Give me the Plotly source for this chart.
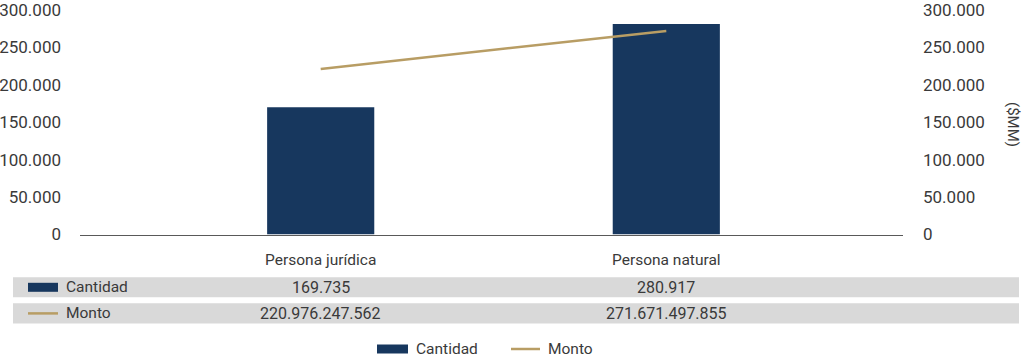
import plotly.graph_objects as go

# ---- data ----
categories = ["Persona jurídica", "Persona natural"]
cantidad = [169735, 280917]
monto = [220976247562, 271671497855]          # pesos
monto_mm = [v / 1e6 for v in monto]           # $MM for right axis
series_names = ["Cantidad", "Monto"]
tick_vals = [0, 50000, 100000, 150000, 200000, 250000, 300000]
tick_text = ["0", "50.000", "100.000", "150.000", "200.000", "250.000", "300.000"]

# ---- style ----
W, H = 1024, 361
NAVY = "#17375E"
GOLD = "#B89D64"
GRAY = "#D9D9D9"
TXT = "#3a3a3a"
FONT = "Roboto"

def fmt(n):
    return f"{n:,}".replace(",", ".")

def px(x):
    return x / W

def py(y):
    return 1 - y / H

fig = go.Figure()
fig.add_trace(go.Bar(x=categories, y=cantidad, name=series_names[0],
                     marker=dict(color=NAVY, line=dict(width=0)), width=0.31,
                     showlegend=False, yaxis="y"))
fig.add_trace(go.Scatter(x=categories, y=monto_mm, name=series_names[1], mode="lines",
                         line=dict(color=GOLD, width=2.5), showlegend=False, yaxis="y2"))

x_left, x_right = 80, 903
y_zero, y_top = 234.5, 9.7
c0, c1 = 320.7, 666.3
unit = c1 - c0
xr = [(x_left - c0) / unit, (x_right - c0) / unit]

fig.update_layout(
    width=W, height=H,
    margin=dict(l=0, r=0, t=0, b=0, autoexpand=False),
    paper_bgcolor="white", plot_bgcolor="white",
    font=dict(family=FONT, color=TXT, size=16),
    xaxis=dict(domain=[px(x_left), px(x_right)], type="category", range=xr,
               showline=True, linecolor="#595959", linewidth=1, automargin=False,
               showgrid=False, ticks="", tickfont=dict(size=15.5, color=TXT),
               ticklabelstandoff=11, fixedrange=True, ticklabeloverflow="allow"),
    yaxis=dict(domain=[py(y_zero), py(y_top)], range=[0, 300000], automargin=False,
               tickvals=tick_vals, ticktext=tick_text, showgrid=False,
               zeroline=False, showline=False, ticks="", ticklabeloverflow="allow",
               tickfont=dict(size=17, color=TXT), ticklabelstandoff=18),
    yaxis2=dict(domain=[py(y_zero), py(y_top)], range=[0, 300000], overlaying="y",
                side="right", anchor="x", tickvals=tick_vals, ticktext=tick_text,
                showgrid=False, zeroline=False, showline=False, ticks="", automargin=False,
                ticklabeloverflow="allow",
                tickfont=dict(size=17, color=TXT), ticklabelstandoff=19),
    showlegend=False,
)

shapes = []
annotations = []

def note(x, y, text, size, xanchor="center", angle=0):
    annotations.append(dict(x=px(x), y=py(y), xref="paper", yref="paper",
                            text=text, showarrow=False, xanchor=xanchor,
                            yanchor="middle", textangle=angle,
                            font=dict(size=size, color=TXT)))

# right axis title
note(1013, 124, "($MM)", 15, angle=90)

# data table
rows = [(277.3, 297.3), (303.3, 323.5)]
row_values = [[fmt(v) for v in cantidad], [fmt(v) for v in monto]]
centers = [c0, c1]
for i, (y0, y1) in enumerate(rows):
    shapes.append(dict(type="rect", xref="paper", yref="paper",
                       x0=px(13), x1=px(1019), y0=py(y1), y1=py(y0),
                       fillcolor=GRAY, line=dict(width=0), layer="below"))
    yc = (y0 + y1) / 2
    if i == 0:
        shapes.append(dict(type="rect", xref="paper", yref="paper",
                           x0=px(28), x1=px(58), y0=py(yc + 4.5), y1=py(yc - 4.5),
                           fillcolor=NAVY, line=dict(width=0)))
    else:
        shapes.append(dict(type="line", xref="paper", yref="paper",
                           x0=px(28), x1=px(58), y0=py(yc), y1=py(yc),
                           line=dict(color=GOLD, width=2.5)))
    note(64, yc, series_names[i], 15.5, xanchor="left")
    for c, v in zip(centers, row_values[i]):
        note(c, yc, v, 16)

# bottom legend
ly = 349
shapes.append(dict(type="rect", xref="paper", yref="paper",
                   x0=px(377), x1=px(408), y0=py(ly + 4.5), y1=py(ly - 4.5),
                   fillcolor=NAVY, line=dict(width=0)))
note(414, ly, series_names[0], 15.5, xanchor="left")
shapes.append(dict(type="line", xref="paper", yref="paper",
                   x0=px(511), x1=px(540), y0=py(ly), y1=py(ly),
                   line=dict(color=GOLD, width=2.5)))
note(546, ly, series_names[1], 15.5, xanchor="left")

fig.update_layout(shapes=shapes, annotations=annotations)
fig.write_html("out.html", config={"displayModeBar": False},
               post_script="document.body.style.margin='0';"
                           "document.body.style.overflow='hidden';")
